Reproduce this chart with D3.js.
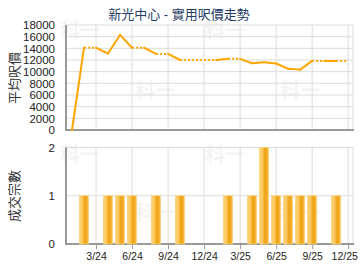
<!DOCTYPE html>
<html><head><meta charset="utf-8">
<script src="https://cdn.jsdelivr.net/npm/d3@7"></script>
<style>body{margin:0;background:#fff}svg{display:block}text{font-family:Arial,"Liberation Sans","Noto Sans CJK TC",sans-serif}</style>
</head><body><div id="c"></div>
<script>
const months = ["1/24","2/24","3/24","4/24","5/24","6/24","7/24","8/24","9/24","10/24","11/24","12/24","1/25","2/25","3/25","4/25","5/25","6/25","7/25","8/25","9/25","10/25","11/25","12/25"];
const prices = [0,14100,14100,13100,16300,14100,14100,13050,13050,12000,12000,12000,12000,12200,12200,11450,11600,11400,10500,10350,11850,11850,11850,11850];
const deals = [0,1,0,1,1,1,0,1,0,1,0,0,0,1,0,1,2,1,1,1,1,0,1,0];
const tickLabels = ["3/24","6/24","9/24","12/24","3/25","6/25","9/25","12/25"];
const priceTicks = [0,2000,4000,6000,8000,10000,12000,14000,16000,18000];
const dealTicks = [0,1,2];
const title = "新光中心 - 實用呎價走勢";

const W=360,H=270;
const svg=d3.select("#c").append("svg").attr("width",W).attr("height",H);
const defs=svg.append("defs");
const g=defs.append("linearGradient").attr("id","bg").attr("x1","0").attr("x2","1").attr("y1","0").attr("y2","0");
[[0,"#f9c24a"],[0.15,"#fdd27a"],[0.4,"#f8bd45"],[0.6,"#eda010"],[0.75,"#f1a820"],[1,"#f8c050"]].forEach(([o,c])=>g.append("stop").attr("offset",o).attr("stop-color",c));

const x=d3.scaleLinear().domain([-0.5,23.4]).range([66,353]);
const idx=d=>months.indexOf(d);
const yP=d3.scaleLinear().domain([0,18000]).range([130,25]);
const yD=d3.scaleLinear().domain([0,2]).range([244,147.5]);

// watermarks
function wm(cx,cy){svg.append("text").attr("x",cx).attr("y",cy).attr("text-anchor","middle").attr("font-size",20).attr("font-weight","bold").attr("fill","#f4f4f4").text("科一");}
[[80,38],[225,38],[155,98],[300,98],[80,162],[225,162],[155,220],[300,220]].forEach(p=>wm(p[0],p[1]));

// title
svg.append("text").attr("x",179).attr("y",19).attr("text-anchor","middle").attr("font-size",13).attr("fill","#1f3c66").text(title);

function grid(yScale,ticks,top,bottom){
  const gg=svg.append("g");
  gg.selectAll(".h").data(ticks).join("line").attr("x1",66).attr("x2",353).attr("y1",d=>yScale(d)).attr("y2",d=>yScale(d)).attr("stroke","#dcdcdc").attr("stroke-width",1);
  gg.selectAll(".v").data(tickLabels).join("line").attr("x1",d=>x(idx(d))).attr("x2",d=>x(idx(d))).attr("y1",top).attr("y2",bottom).attr("stroke","#dcdcdc").attr("stroke-width",1);
  gg.append("line").attr("x1",353).attr("x2",353).attr("y1",top).attr("y2",bottom).attr("stroke","#dcdcdc");
}
grid(yP,priceTicks,25,130);
grid(yD,dealTicks,147.5,244);

// axes
function leftAxis(yScale,ticks,top,bottom){
  const a=svg.append("g").attr("transform","translate(66,0)").call(d3.axisLeft(yScale).tickValues(ticks).tickSize(0).tickPadding(11).tickFormat(d3.format("d")));
  a.select(".domain").remove();
  a.selectAll("text").attr("font-size",11.5).attr("fill","#222").style("font-family","Arial,'Liberation Sans',sans-serif");
  svg.append("line").attr("x1",66).attr("x2",66).attr("y1",top).attr("y2",bottom+1).attr("stroke","#999").attr("stroke-width",2);
  svg.append("line").attr("x1",65).attr("x2",354).attr("y1",bottom).attr("y2",bottom).attr("stroke","#999").attr("stroke-width",2);
}
leftAxis(yP,priceTicks,25,130);
leftAxis(yD,dealTicks,147.5,244);

const xa=svg.append("g").attr("transform","translate(0,245)").call(d3.axisBottom(x).tickValues(tickLabels.map(idx)).tickSize(4).tickPadding(4).tickFormat(i=>months[i]));
xa.select(".domain").remove();
xa.selectAll("line").attr("stroke","#999");
xa.selectAll("text").attr("font-size",10.5).attr("fill","#222").style("font-family","Arial,'Liberation Sans',sans-serif")
  .attr("dx",(d,i,n)=>i===n.length-1?-4:0);

// axis titles
svg.append("text").attr("transform","translate(19,78) rotate(-90)").attr("text-anchor","middle").attr("font-size",13).attr("fill","#333").text("平均呎價");
svg.append("text").attr("transform","translate(19,196) rotate(-90)").attr("text-anchor","middle").attr("font-size",13).attr("fill","#333").text("成交宗數");

// price line segments
const segs=[];
for(let i=1;i<months.length;i++) segs.push({a:i-1,b:i,dot:deals[i]===0});
svg.append("g").selectAll("line").data(segs).join("line")
  .attr("x1",d=>x(d.a)).attr("y1",d=>yP(prices[d.a])).attr("x2",d=>x(d.b)).attr("y2",d=>yP(prices[d.b]))
  .attr("stroke","#ffa500").attr("stroke-width",2).attr("stroke-linecap",d=>d.dot?"butt":"round")
  .attr("stroke-dasharray",d=>d.dot?"2,2":null);

// bars
const bw=9;
svg.append("g").selectAll("rect").data(months.map((m,i)=>({i,v:deals[i]})).filter(d=>d.v>0)).join("rect")
  .attr("x",d=>x(d.i)-bw/2).attr("width",bw).attr("y",d=>yD(d.v)).attr("height",d=>yD(0)-yD(d.v))
  .attr("fill","url(#bg)").attr("stroke","#fbd07a").attr("stroke-width",0.8);
</script></body></html>
